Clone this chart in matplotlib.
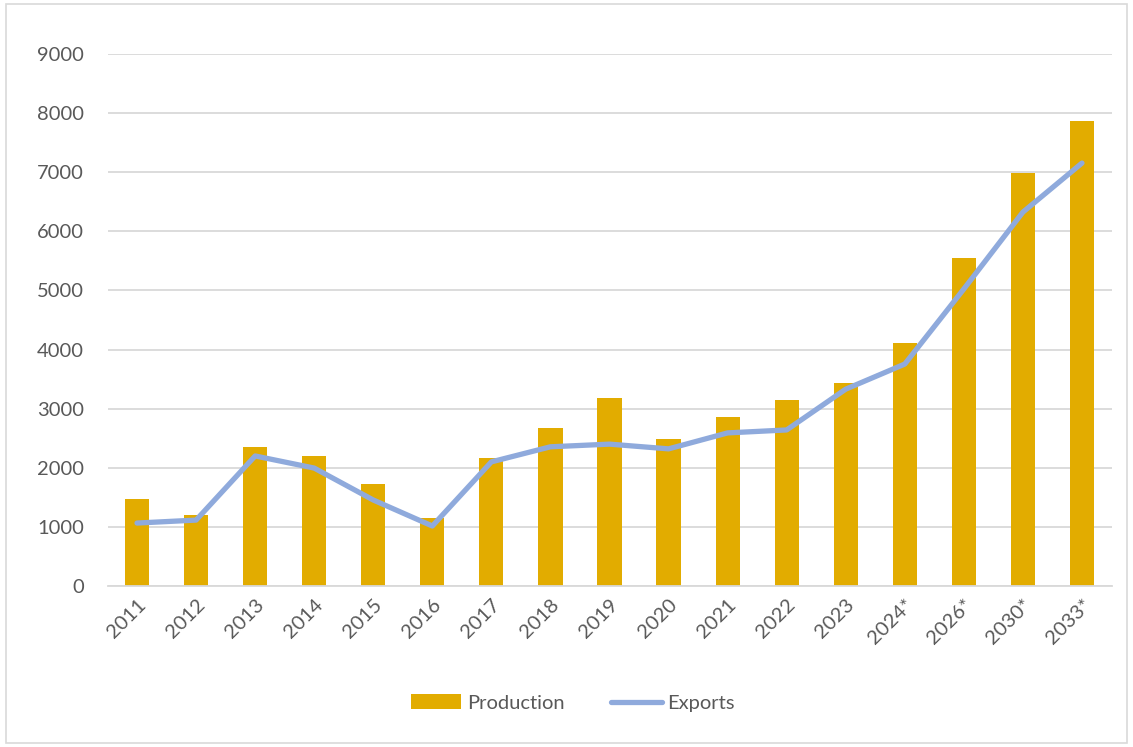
import matplotlib
matplotlib.use("Agg")
import matplotlib.pyplot as plt
import numpy as np
from matplotlib.patches import Rectangle

years = ["2011", "2012", "2013", "2014", "2015", "2016", "2017", "2018", "2019",
         "2020", "2021", "2022", "2023", "2024*", "2026*", "2030*", "2033*"]
production = [1470, 1200, 2350, 2200, 1720, 1150, 2165, 2670, 3180,
              2490, 2860, 3150, 3430, 4110, 5550, 6985, 7870]
exports = [1065, 1115, 2200, 1995, 1455, 1015, 2100, 2355, 2400,
           2320, 2590, 2640, 3330, 3755, 5025, 6325, 7155]
y_ticks = list(range(0, 9001, 1000))

plt.rcParams["font.family"] = ["Lato", "DejaVu Sans"]
text_grey = "#595959"
bar_gold = "#E2AC00"
line_blue = "#8FAADC"

fig = plt.figure(figsize=(11.33, 7.47), dpi=100)
# light chart-area border
fig.patches.append(Rectangle((6 / 1133, 4 / 747), 1121 / 1133, 739 / 747,
                             transform=fig.transFigure, fill=False,
                             edgecolor="#D9D9D9", linewidth=1.2))

ax = fig.add_axes([107.5 / 1133, 1 - 586 / 747, 1004 / 1133, 532 / 747])
x = np.arange(len(years))
bars = ax.bar(x, production, width=0.41, color=bar_gold, label="Production", zorder=2)
line, = ax.plot(x, exports, color=line_blue, linewidth=3.8, solid_capstyle="round",
                label="Exports", zorder=3)

ax.set_xlim(-0.5, len(years) - 0.5)
ax.set_ylim(0, 9000)
ax.set_yticks(y_ticks)
ax.set_xticks(x)
ax.set_xticklabels(years, rotation=45, ha="right", rotation_mode="anchor")
ax.tick_params(axis="both", length=0, labelsize=14.5, colors=text_grey)
ax.tick_params(axis="y", pad=17)
ax.tick_params(axis="x", pad=7)
ax.grid(axis="y", color="#D9D9D9", linewidth=1.3, zorder=0)
ax.set_axisbelow(True)
for side in ["top", "right", "left"]:
    ax.spines[side].set_visible(False)
ax.spines["bottom"].set_color("#D9D9D9")
ax.spines["bottom"].set_linewidth(1.3)

leg = fig.legend([bars, line], ["Production", "Exports"], loc="center",
                 bbox_to_anchor=(573 / 1133, 1 - 703 / 747), ncol=2,
                 frameon=False, fontsize=14.5, handlelength=2.5, handleheight=0.75,
                 handletextpad=0.3, columnspacing=2.3)
for t in leg.get_texts():
    t.set_color(text_grey)

fig.savefig("out.png", dpi=100)
